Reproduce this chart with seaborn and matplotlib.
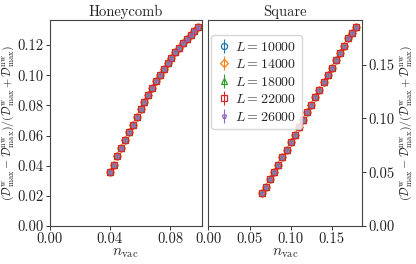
import matplotlib
matplotlib.use("Agg")
import matplotlib.pyplot as plt
import seaborn as sns

# system sizes and marker per series
sizes = [10000, 14000, 18000, 22000, 26000]
markers = ["o", "D", "^", "s", "p"]

# honeycomb lattice: vacancy density vs. relative difference (all L collapse)
hc_x = [0.0400, 0.0426, 0.0451, 0.0477, 0.0502, 0.0528, 0.0553, 0.0579,
        0.0604, 0.0630, 0.0655, 0.0681, 0.0706, 0.0732, 0.0757, 0.0783,
        0.0808, 0.0834, 0.0859, 0.0885, 0.0910, 0.0936, 0.0961, 0.0987]
hc_y = [0.0357, 0.0407, 0.0462, 0.0515, 0.0568, 0.0621, 0.0672, 0.0722,
        0.0773, 0.0824, 0.0868, 0.0914, 0.0960, 0.1000, 0.1040, 0.1079,
        0.1116, 0.1152, 0.1182, 0.1213, 0.1242, 0.1268, 0.1294, 0.1317]

# square lattice
sq_x = [0.065, 0.070, 0.075, 0.080, 0.085, 0.090, 0.095, 0.100,
        0.105, 0.110, 0.115, 0.120, 0.125, 0.130, 0.135, 0.140,
        0.145, 0.150, 0.155, 0.160, 0.165, 0.170, 0.175, 0.180]
sq_y = [0.0306, 0.0361, 0.0435, 0.0506, 0.0570, 0.0641, 0.0709, 0.0776,
        0.0850, 0.0918, 0.0989, 0.1056, 0.1127, 0.1198, 0.1265, 0.1336,
        0.1407, 0.1471, 0.1539, 0.1607, 0.1674, 0.1745, 0.1797, 0.1847]
err = 0.0012

sns.set_style("ticks")
plt.rcParams["font.family"] = ["serif"]
plt.rcParams["font.serif"] = ["cmr10", "DejaVu Serif"]
plt.rcParams["mathtext.fontset"] = "cm"
plt.rcParams["axes.formatter.use_mathtext"] = True
plt.rcParams["axes.unicode_minus"] = False

palette = sns.color_palette("tab10", len(sizes))
ylabel = (r"$(\mathcal{D}^{\rm w}_{\rm max} - \mathcal{D}^{\rm nw}_{\rm max})"
          r"/(\mathcal{D}^{\rm w}_{\rm max} + \mathcal{D}^{\rm nw}_{\rm max})$")

fig = plt.figure(figsize=(4.16, 2.64), dpi=100)
ax1 = fig.add_axes([0.119, 0.144, 0.366, 0.780])
ax2 = fig.add_axes([0.501, 0.144, 0.369, 0.780])

for ax, xs, ys in [(ax1, hc_x, hc_y), (ax2, sq_x, sq_y)]:
    for L, m, c in zip(sizes, markers, palette):
        ax.errorbar(xs, ys, yerr=err, fmt=m, color=c, mfc="none", mew=0.9,
                    ms=4.4 if m != "p" else 3.6, elinewidth=0.8, capsize=0,
                    label=rf"$L = {L}$")
    ax.set_xlabel(r"$n_{\rm vac}$", fontsize=11, labelpad=0)
    ax.tick_params(labelsize=10.5, length=3, width=0.7, pad=1.5,
                   colors="#333333", labelcolor="#222222")
    for s in ax.spines.values():
        s.set_linewidth(0.8)
        s.set_color("#444444")

ax1.set_xlim(0, 0.101)
ax1.set_ylim(0, 0.1366)
ax1.set_xticks([0.0, 0.04, 0.08])
ax1.set_yticks([0.0, 0.02, 0.04, 0.06, 0.08, 0.10, 0.12])
ax1.set_xticklabels(["0.00", "0.04", "0.08"])
ax1.set_yticklabels(["0.00", "0.02", "0.04", "0.06", "0.08", "0.10", "0.12"])
ax1.set_ylabel(ylabel, fontsize=8.6, labelpad=1)
ax1.set_title("Honeycomb", fontsize=10.5, pad=3)

ax2.set_xlim(0, 0.1866)
ax2.set_ylim(0, 0.1914)
ax2.set_xticks([0.0, 0.05, 0.10, 0.15])
ax2.set_xticklabels(["0.00", "0.05", "0.10", "0.15"])
ax2.set_yticks([0.0, 0.05, 0.10, 0.15])
ax2.set_yticklabels(["0.00", "0.05", "0.10", "0.15"])
ax2.yaxis.tick_right()
ax2.yaxis.set_label_position("right")
ax2.set_ylabel(ylabel, fontsize=8.6, labelpad=3)
ax2.set_title("Square", fontsize=10.5, pad=3)
ax2.legend(loc="upper left", fontsize=10, handletextpad=0.3,
           borderpad=0.4, labelspacing=0.32, handlelength=1.0,
           borderaxespad=0.2, bbox_to_anchor=(0.0, 0.94))

fig.savefig("out.png", dpi=100)
